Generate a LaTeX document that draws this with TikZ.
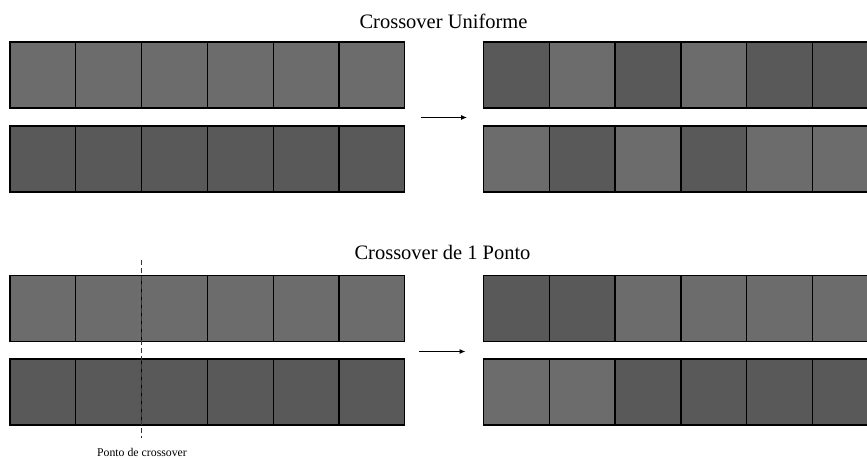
\documentclass[tikz,border=0pt]{standalone}
\usepackage{fontspec}
\setmainfont{Liberation Serif}
\usetikzlibrary{arrows.meta}
\definecolor{lightg}{RGB}{108,108,108}
\definecolor{darkg}{RGB}{89,89,89}
\tikzset{
  cell/.style={draw=black, line width=1.3pt, minimum width=65.8pt, minimum height=66pt, inner sep=0pt, outer sep=0pt, anchor=north west},
  L/.style={cell, fill=lightg},
  D/.style={cell, fill=darkg},
  titletext/.style={font=\fontsize{20.5}{24}\selectfont, anchor=base},
  smalltext/.style={font=\fontsize{11.8}{14}\selectfont, anchor=base},
  arr/.style={line width=1pt, -{Latex[length=6pt,width=5pt]}},
  cutline/.style={line width=1.3pt, dash pattern=on 5pt off 3pt, draw=black!80}
}
\begin{document}
\begin{tikzpicture}[x=1pt,y=-1pt]
\useasboundingbox (0,0) rectangle (867,458);
% titles
\node[titletext] (t1) at (443.5,28.5) {Crossover Uniforme};
\node[titletext] (t2) at (442.5,259.5) {Crossover de 1 Ponto};
\def\w{65.8}
% ---- Uniform crossover ----
\foreach \i in {0,...,5} {
  \node[L] (ua\i) at ({10+\i*\w},42) {};
  \node[D] (ub\i) at ({10+\i*\w},126) {};
}
\foreach \i/\s/\t in {0/D/L,1/L/D,2/D/L,3/L/D,4/D/L,5/D/L} {
  \node[\s] (uc\i) at ({483.5+\i*\w},42) {};
  \node[\t] (ud\i) at ({483.5+\i*\w},126) {};
}
\coordinate (u1) at (421,117.5);
\coordinate (u2) at (467,117.5);
\draw[arr] (u1) -- (u2);
% ---- One point crossover ----
\foreach \i in {0,...,5} {
  \node[L] (pa\i) at ({10+\i*\w},275.5) {};
  \node[D] (pb\i) at ({10+\i*\w},359) {};
}
\foreach \i/\s/\t in {0/D/L,1/D/L,2/L/D,3/L/D,4/L/D,5/L/D} {
  \node[\s] (pc\i) at ({483.5+\i*\w},275.5) {};
  \node[\t] (pd\i) at ({483.5+\i*\w},359) {};
}
\coordinate (p1) at (419,351.5);
\coordinate (p2) at (465.5,351.5);
\draw[arr] (p1) -- (p2);
% crossover point
\coordinate (c1) at (141.6,260);
\coordinate (c2) at (141.6,438);
\draw[cutline] (c1) -- (c2);
\node[smalltext] (lbl) at (142,456.5) {Ponto de crossover};
\end{tikzpicture}
\end{document}
